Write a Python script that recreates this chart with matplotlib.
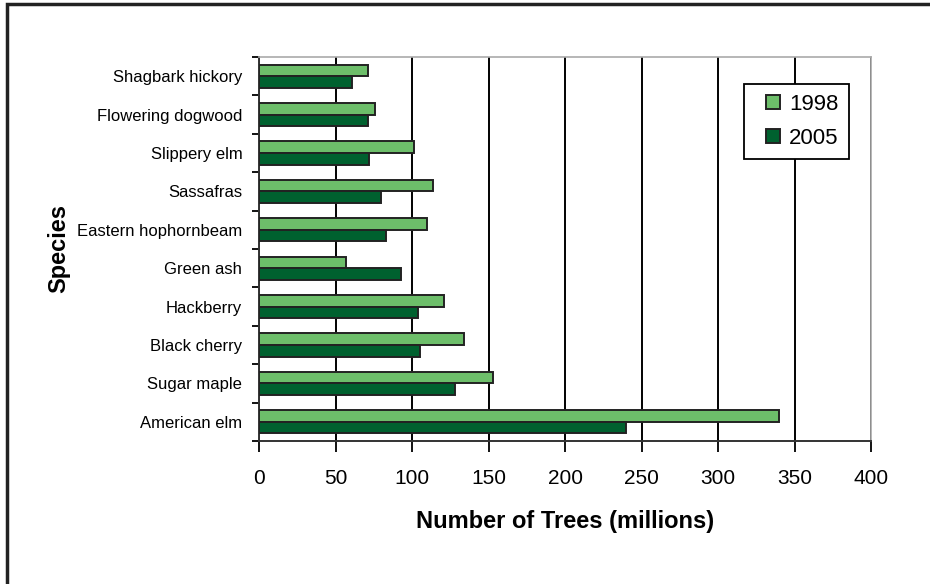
import numpy as np
import matplotlib.pyplot as plt
from matplotlib.patches import Rectangle
from matplotlib.container import BarContainer
from matplotlib.legend_handler import HandlerPatch, update_from_first_child

plt.rcParams["font.family"] = ["Liberation Sans", "DejaVu Sans"]

species = ["Shagbark hickory", "Flowering dogwood", "Slippery elm", "Sassafras",
           "Eastern hophornbeam", "Green ash", "Hackberry", "Black cherry",
           "Sugar maple", "American elm"]
trees_1998 = [71, 76, 101, 114, 110, 57, 121, 134, 153, 340]
trees_2005 = [61, 71, 72, 80, 83, 93, 104, 105, 128, 240]

fig = plt.figure(figsize=(9.3, 5.84), dpi=100)
ax = fig.add_axes([0.2785, 0.2449, 0.6581, 0.6575])

y = np.arange(len(species))
h = 0.3
ax.barh(y - h / 2, trees_1998, height=h, color="#6DBE6A", edgecolor="#222222",
        linewidth=1.4, label="1998", zorder=3)
ax.barh(y + h / 2, trees_2005, height=h, color="#00612F", edgecolor="#222222",
        linewidth=1.4, label="2005", zorder=3)

ax.set_xlim(0, 400)
ax.set_ylim(len(species) - 0.5, -0.5)
ax.set_xticks(np.arange(0, 401, 50))
ax.tick_params(axis="x", length=8, width=1.3, pad=12, labelsize=15, direction="out")
ax.set_yticks(y)
ax.set_yticklabels(species, fontsize=12)
ax.tick_params(axis="y", length=0, pad=12)
ax.set_yticks(np.arange(-0.5, len(species)), minor=True)
ax.tick_params(axis="y", which="minor", length=5, width=1.3, direction="out")

ax.grid(axis="x", color="black", linewidth=1.4, zorder=1)
for s in ["left", "bottom"]:
    ax.spines[s].set_color("#333333")
    ax.spines[s].set_linewidth(1.4)
for s in ["top", "right"]:
    ax.spines[s].set_color("#aaaaaa")
    ax.spines[s].set_linewidth(1.2)

ax.set_xlabel("Number of Trees (millions)", fontsize=17, fontweight="bold", labelpad=16)
ax.set_ylabel("Species", fontsize=17, fontweight="bold", labelpad=5)


# small square legend keys, pushed to the right of the handle box
def square_key(legend, orig_handle, xdescent, ydescent, width, height, fontsize):
    s = 10
    return Rectangle((-xdescent + width - s, -ydescent + (height - s) / 2), s, s)


leg = ax.legend(loc="upper left", bbox_to_anchor=(0.7925, 0.93), borderaxespad=0,
                fontsize=16, fancybox=False, framealpha=1, edgecolor="black",
                handlelength=1.17, handleheight=0.8, handletextpad=0.42,
                labelspacing=0.55, borderpad=0.45,
                handler_map={BarContainer: HandlerPatch(
                    patch_func=square_key, update_func=update_from_first_child)})
leg.get_frame().set_linewidth(1.3)

# outer frame
fig.patches.append(Rectangle((6.5 / 930, -0.1), 1.2, 1 - 4.5 / 584 + 0.1,
                             transform=fig.transFigure, fill=False,
                             edgecolor="#222222", linewidth=2.5))

fig.savefig("out.png", dpi=100)
